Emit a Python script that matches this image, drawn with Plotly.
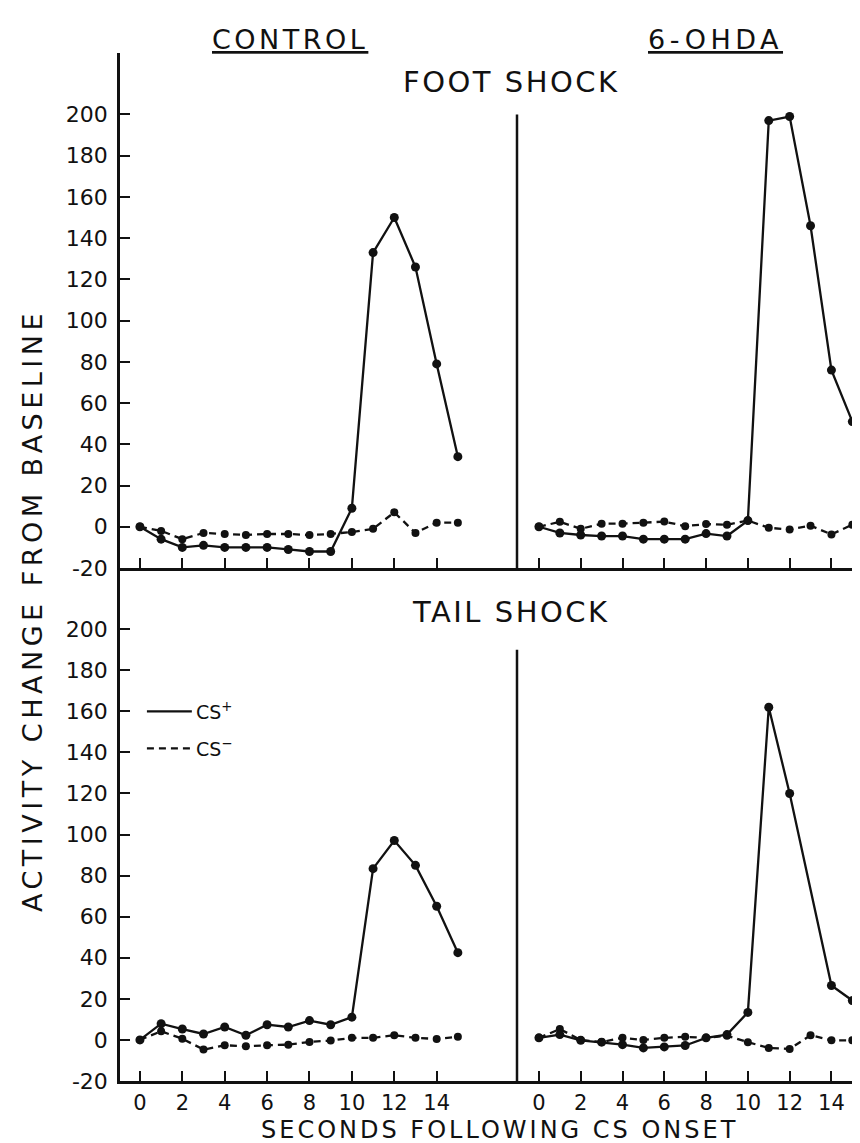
import plotly.graph_objects as go

# ---------------- data ----------------
seconds = list(range(16))
x_ticks = [0, 2, 4, 6, 8, 10, 12, 14]
y_ticks = [200, 180, 160, 140, 120, 100, 80, 60, 40, 20, 0, -20]
y_tick_text = ["200", "180", "160", "140", "120", "100", "80", "60", "40", "20", "0", "-20"]

# FOOT SHOCK, CONTROL
foot_control_csplus = [0, -6, -10, -9, -10, -10, -10, -11, -12, -12, 9, 133, 150, 126, 79, 34]
foot_control_csminus = [0, -2, -6, -3, -3.5, -4, -3.5, -3.5, -4, -3.5, -2.5, -1, 7, -3, 2, 2]
# FOOT SHOCK, 6-OHDA
foot_ohda_csplus = [0, -3, -4, -4.5, -4.5, -6, -6, -6, -3.3, -4.5, 3, 197, 199, 146, 76, 51]
foot_ohda_csminus = [0, 2.4, -1, 1.5, 1.5, 2, 2.5, 0.3, 1.3, 1, 3, -0.5, -1.3, 0.5, -3.7, 1]
# TAIL SHOCK, CONTROL
tail_control_csplus = [0, 7.9, 5.3, 2.9, 6.3, 2.3, 7.4, 6.3, 9.4, 7.4, 11.1, 83.4, 97.1, 85, 65.1, 42.5]
tail_control_csminus = [0, 4.2, 0.6, -4.7, -2.6, -3.1, -2.6, -2.3, -1, -0.3, 1, 1, 2.3, 1, 0.5, 1.5]
# TAIL SHOCK, 6-OHDA
tail_ohda_csplus = [1, 2.6, -0.2, -1.1, -2.3, -3.9, -3.4, -2.7, 1, 2.6, 13.4, 162, 120, None, 26.5, 19.2]
tail_ohda_csminus = [1, 5.3, 0, -1, 1, 0, 1, 1.5, 1, 2, -1.1, -3.9, -4.4, 2.3, -0.2, -0.2]

# ---------------- style ----------------
FONT = "DejaVu Sans"
INK = "#111111"
W, H = 860, 1143
ML, MR, MT, MB = 112, 0, 45, 70
PW, PH = W - ML - MR, H - MT - MB


def px_x(xp):
    return (xp - ML) / PW


def px_y(yp):
    return (H - MB - yp) / PH


def spaced(txt, sp):
    return '<span style="letter-spacing:%spx">%s</span>' % (sp, txt)


split_x = px_x(509)
split_y = px_y(560)

fig = go.Figure()

panels = [
    ("x3", "y3", foot_control_csplus, foot_control_csminus),
    ("x4", "y4", foot_ohda_csplus, foot_ohda_csminus),
    ("x", "y", tail_control_csplus, tail_control_csminus),
    ("x2", "y2", tail_ohda_csplus, tail_ohda_csminus),
]

for xa, ya, plus, minus in panels:
    fig.add_trace(go.Scatter(
        x=seconds, y=minus, xaxis=xa, yaxis=ya, mode="lines+markers",
        line=dict(color=INK, width=2.3, dash="7px,5px"),
        marker=dict(color=INK, size=8, symbol="circle"),
        showlegend=False, hoverinfo="skip", cliponaxis=False))
    fig.add_trace(go.Scatter(
        x=seconds, y=plus, xaxis=xa, yaxis=ya, mode="lines+markers",
        connectgaps=True,
        line=dict(color=INK, width=2.3),
        marker=dict(color=INK, size=9, symbol="circle"),
        showlegend=False, hoverinfo="skip", cliponaxis=False))

YR = [-20, 229.8]
XL = [-0.94, 17.79]
XR = [-1.05, 15.75]

tickfont = dict(family=FONT, size=21, color=INK)


def xaxis(dom, rng, anchor, labels):
    return dict(domain=dom, range=rng, anchor=anchor, showgrid=False, zeroline=False,
                showline=True, linecolor=INK, linewidth=2.5,
                tickmode="array", tickvals=x_ticks, ticks="inside", ticklen=10,
                tickwidth=2, tickcolor=INK, showticklabels=labels,
                tickfont=tickfont, ticklabelstandoff=1)


def yaxis_left(dom, anchor):
    return dict(domain=dom, range=YR, anchor=anchor, showgrid=False, zeroline=False,
                showline=True, linecolor=INK, linewidth=2.5,
                tickmode="array", tickvals=y_ticks, ticktext=y_tick_text,
                ticks="inside", ticklen=10, tickwidth=2, tickcolor=INK,
                tickfont=dict(family=FONT, size=22, color=INK), ticklabelstandoff=5)


def yaxis_right(dom, anchor):
    return dict(domain=dom, range=YR, anchor=anchor, showgrid=False, zeroline=False,
                showline=False, showticklabels=False, ticks="")


fig.update_layout(
    width=W, height=H,
    margin=dict(l=ML, r=MR, t=MT, b=MB),
    paper_bgcolor="white", plot_bgcolor="white",
    xaxis=xaxis([0, split_x], XL, "y", True),
    yaxis=yaxis_left([0, split_y], "x"),
    xaxis2=xaxis([split_x, 1], XR, "y2", True),
    yaxis2=yaxis_right([0, split_y], "x2"),
    xaxis3=xaxis([0, split_x], XL, "y3", False),
    yaxis3=yaxis_left([split_y, 1], "x3"),
    xaxis4=xaxis([split_x, 1], XR, "y4", False),
    yaxis4=yaxis_right([split_y, 1], "x4"),
)

shapes = [
    # right panel vertical axes
    dict(type="line", xref="x4 domain", x0=0, x1=0, yref="y4", y0=-20, y1=200,
         line=dict(color=INK, width=2.5)),
    dict(type="line", xref="x2 domain", x0=0, x1=0, yref="y2", y0=-20, y1=190,
         line=dict(color=INK, width=2.5)),
    # legend samples
    dict(type="line", xref="x", yref="y", x0=0.33, x1=2.45, y0=160, y1=160,
         line=dict(color=INK, width=2.3)),
    dict(type="line", xref="x", yref="y", x0=0.33, x1=2.45, y0=142, y1=142,
         line=dict(color=INK, width=2.3, dash="7px,5px")),
]
fig.update_layout(shapes=shapes)

ann = [
    dict(text="<u>" + spaced("CONTROL", 3.5) + "</u>", x=px_x(282), y=px_y(31), font=dict(size=27)),
    dict(text="<u>" + spaced("6-OHDA", 4.5) + "</u>", x=px_x(707), y=px_y(31), font=dict(size=27)),
    dict(text=spaced("FOOT SHOCK", 2.5), x=px_x(503), y=px_y(74), font=dict(size=29)),
    dict(text=spaced("TAIL SHOCK", 2.5), x=px_x(503), y=px_y(604), font=dict(size=29)),
    dict(text=spaced("SECONDS FOLLOWING CS ONSET", 3), x=px_x(491), y=px_y(1122), font=dict(size=24)),
    dict(text=spaced("ACTIVITY CHANGE FROM BASELINE", 4.5), x=px_x(24), y=px_y(603),
         font=dict(size=27), textangle=-90),
]
annotations = []
for a in ann:
    f = dict(family=FONT, color=INK)
    f.update(a.pop("font"))
    annotations.append(dict(xref="paper", yref="paper", showarrow=False,
                            xanchor="center", yanchor="middle", font=f, **a))

annotations += [
    dict(text="CS<sup>+</sup>", xref="x", yref="y", x=2.55, y=160, xanchor="left",
         yanchor="middle", showarrow=False, font=dict(family=FONT, size=19, color=INK)),
    dict(text="CS<sup>−</sup>", xref="x", yref="y", x=2.55, y=142, xanchor="left",
         yanchor="middle", showarrow=False, font=dict(family=FONT, size=19, color=INK)),
]
fig.update_layout(annotations=annotations)

fig.write_html("out.html")
